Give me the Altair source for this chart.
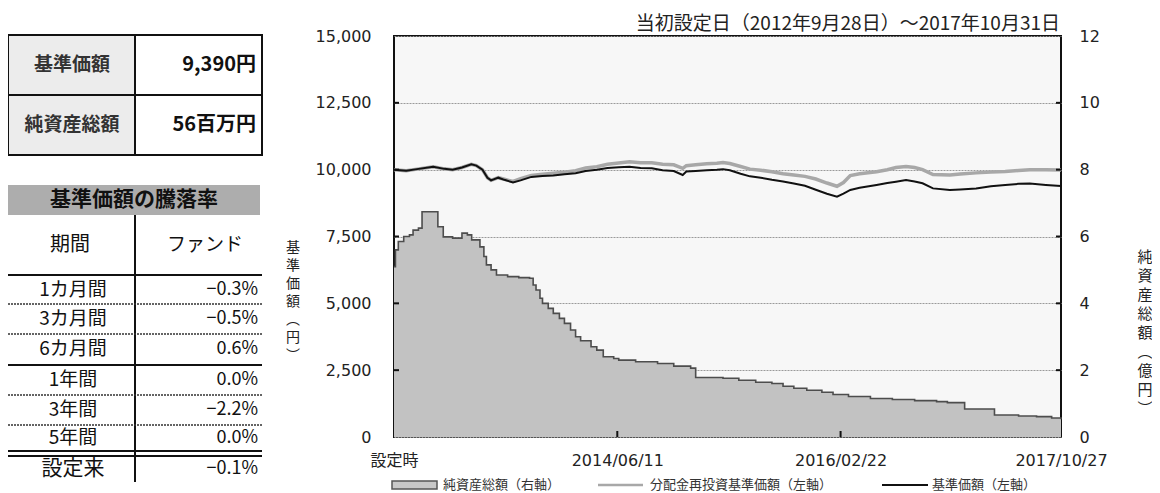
import altair as alt
import pandas as pd

# ---------------- data ----------------
nav_dates = ["2012-09-28","2012-11-01","2012-12-01","2013-01-15","2013-02-15","2013-03-10","2013-04-05",
             "2013-05-01","2013-05-15","2013-06-01","2013-06-15","2013-06-25","2013-07-15","2013-08-01",
             "2013-08-25","2013-09-15","2013-10-15","2013-11-15","2013-12-15","2014-01-15","2014-02-15",
             "2014-03-15","2014-04-15","2014-05-15","2014-06-15","2014-07-15","2014-08-15","2014-09-15",
             "2014-10-15","2014-11-15","2014-12-10","2014-12-20","2015-01-15","2015-02-15","2015-03-15",
             "2015-04-01","2015-04-20","2015-05-20","2015-06-15","2015-07-15","2015-08-15","2015-09-15",
             "2015-10-15","2015-11-15","2015-12-15","2016-01-15","2016-02-12","2016-03-01","2016-03-20",
             "2016-04-15","2016-06-01","2016-07-01","2016-07-25","2016-08-22","2016-09-15","2016-10-07",
             "2016-11-05","2016-12-22","2017-01-20","2017-03-05","2017-04-15","2017-05-25","2017-07-01",
             "2017-08-01","2017-09-15","2017-10-27"]
nav_values = [10000, 9960, 10020, 10110, 10030, 10000, 10080, 10200, 10150, 10000, 9700, 9600, 9700, 9620,
              9520, 9600, 9730, 9760, 9780, 9830, 9870, 9950, 10000, 10060, 10090, 10110, 10060, 10050,
              9980, 9950, 9800, 9930, 9950, 9980, 10000, 10020, 9980, 9850, 9750, 9700, 9620, 9560,
              9480, 9400, 9250, 9100, 8990, 9100, 9240, 9320, 9430, 9500, 9550, 9610, 9560, 9490,
              9300, 9240, 9260, 9300, 9380, 9430, 9470, 9480, 9430, 9390]
reinv_values = [10000, 9960, 10020, 10110, 10030, 10000, 10080, 10200, 10150, 10000, 9700, 9600, 9700, 9640,
                9560, 9660, 9780, 9830, 9870, 9900, 9960, 10060, 10110, 10200, 10250, 10300, 10260, 10260,
                10200, 10180, 10050, 10150, 10180, 10220, 10240, 10270, 10230, 10120, 10020, 9980, 9920, 9850,
                9800, 9750, 9650, 9500, 9380, 9520, 9780, 9850, 9920, 10000, 10080, 10120, 10080, 10000,
                9820, 9800, 9840, 9880, 9910, 9930, 9970, 10000, 10000, 9990]

asset_dates = ["2012-09-28","2012-10-02","2012-10-10","2012-10-25","2012-11-10","2012-11-20","2012-12-05",
               "2012-12-15","2013-01-28","2013-02-12","2013-03-10","2013-04-05","2013-04-20","2013-05-02",
               "2013-05-25","2013-06-05","2013-06-12","2013-06-25","2013-07-10","2013-08-10","2013-09-10",
               "2013-10-10","2013-10-20","2013-10-28","2013-11-08","2013-11-15","2013-12-01","2013-12-15",
               "2014-01-01","2014-01-15","2014-02-01","2014-02-15","2014-03-01","2014-03-30","2014-04-15",
               "2014-05-03","2014-06-01","2014-06-15","2014-08-01","2014-10-01","2014-11-15","2015-01-01",
               "2015-01-15","2015-04-01","2015-05-15","2015-07-01","2015-08-15","2015-09-15","2015-10-15",
               "2015-11-20","2016-01-01","2016-02-01","2016-03-15","2016-05-15","2016-07-15","2016-09-15",
               "2016-11-15","2016-12-15","2017-02-01","2017-04-25","2017-07-01","2017-08-20","2017-10-01",
               "2017-10-27"]
asset_values = [5.10, 5.60, 5.85, 6.00, 6.05, 6.19, 6.25, 6.74, 6.29, 5.99, 5.95, 6.10, 6.05, 5.90,
                5.69, 5.40, 5.15, 5.00, 4.85, 4.80, 4.77, 4.75, 4.55, 4.40, 4.15, 4.00, 3.85, 3.70,
                3.55, 3.40, 3.20, 3.00, 2.88, 2.70, 2.60, 2.40, 2.35, 2.30, 2.25, 2.20, 2.12, 2.06,
                1.78, 1.76, 1.70, 1.64, 1.60, 1.52, 1.46, 1.40, 1.34, 1.27, 1.21, 1.15, 1.12, 1.09,
                1.06, 1.03, 0.84, 0.66, 0.63, 0.61, 0.57, 0.53]

tick_dates = ["2012-09-28", "2014-06-11", "2016-02-22", "2017-10-27"]
left_ticks = [0, 2500, 5000, 7500, 10000, 12500, 15000]
right_ticks = [0, 2, 4, 6, 8, 10, 12]

periods = ["1カ月間", "3カ月間", "6カ月間", "1年間", "3年間", "5年間", "設定来"]
returns = [-0.3, -0.5, 0.6, 0.0, -2.2, 0.0, -0.1]
nav_latest = 9390
assets_latest_mil = 56
title_text = "当初設定日（2012年9月28日）～2017年10月31日"
legend_labels = ["純資産総額（右軸）", "分配金再投資基準価額（左軸）", "基準価額（左軸）"]

# ---------------- layout ----------------
JP = "'Noto Sans CJK JP', sans-serif"
NUM = "'DejaVu Sans', 'Noto Sans CJK JP', sans-serif"
OX, OY, W, H = 394, 36, 667, 401
row_y = [290, 319, 349, 380, 410, 438, 469]


def X(v):
    return v - OX


def Y(v):
    return v - OY


def dt(s):
    y, m, d = map(int, s.split("-"))
    return alt.DateTime(year=y, month=m, date=d, utc=True)


one = pd.DataFrame({"k": [0]})

nav_df = pd.DataFrame({"date": nav_dates, "nav": nav_values, "reinv": reinv_values})
asset_df = pd.DataFrame({"date": asset_dates, "assets": asset_values})

x_scale = alt.Scale(domain=[dt(tick_dates[0]), dt(tick_dates[-1])])
x_axis = alt.Axis(values=[dt(s) for s in tick_dates],
                  labelExpr="datum.value < utc(2013,0,1) ? '設定時' : utcFormat(datum.value, '%Y/%m/%d')",
                  title=None, ticks=False, domain=False, grid=False, labelFlush=False,
                  labelOverlap=False, labelFont=NUM, labelFontSize=16, labelColor="#222",
                  labelPadding=15)
x_enc = alt.X("date:T", scale=x_scale, axis=x_axis)

yl_scale = alt.Scale(domain=[0, 15000], nice=False)
yl_axis = alt.Axis(values=left_ticks, format=",d", title=None, ticks=False, domain=False,
                   grid=True, gridDash=[2, 1], gridColor="#9a9a9a", gridWidth=1,
                   labelFont=NUM, labelFontSize=16, labelColor="#222", labelPadding=23)
yr_scale = alt.Scale(domain=[0, 12], nice=False)
yr_axis = alt.Axis(orient="right", values=right_ticks, format="d", title=None, ticks=False,
                   domain=False, grid=False, labelFont=NUM, labelFontSize=16, labelColor="#222",
                   labelPadding=18)

area = alt.Chart(asset_df).mark_area(interpolate="step-after", color="#c2c2c2", opacity=1).encode(
    x=x_enc, y=alt.Y("assets:Q", scale=yr_scale, axis=yr_axis))
area_line = alt.Chart(asset_df).mark_line(interpolate="step-after", color="#4d4d4d", strokeWidth=1.6).encode(
    x=x_enc, y=alt.Y("assets:Q", scale=yr_scale, axis=yr_axis))

reinv_line = alt.Chart(nav_df).mark_line(color="#a8a8a8", strokeWidth=3.5).encode(
    x=x_enc, y=alt.Y("reinv:Q", scale=yl_scale, axis=yl_axis))
nav_line = alt.Chart(nav_df).mark_line(color="#111111", strokeWidth=2).encode(
    x=x_enc, y=alt.Y("nav:Q", scale=yl_scale, axis=yl_axis))

inner = pd.DataFrame({"v": left_ticks[1:-1]})
lt = alt.Chart(inner).mark_rule(color="#111", strokeWidth=2).encode(
    y=alt.Y("v:Q", scale=yl_scale, axis=yl_axis), x=alt.value(0), x2=alt.value(5))
rt = alt.Chart(inner).mark_rule(color="#111", strokeWidth=2).encode(
    y=alt.Y("v:Q", scale=yl_scale, axis=yl_axis), x=alt.value(W - 5), x2=alt.value(W))
bt = alt.Chart(pd.DataFrame({"date": tick_dates[1:3]})).mark_rule(color="#111", strokeWidth=2).encode(
    x=x_enc, y=alt.value(H), y2=alt.value(H - 6))


# ---------------- decorations ----------------
def txt(s, x, y, size, align="center", weight="normal", color="#111", font=JP, **kw):
    return alt.Chart(pd.DataFrame({"t": [s]})).mark_text(
        align=align, baseline="middle", fontSize=size, fontWeight=weight, color=color, font=font, **kw
    ).encode(x=alt.value(X(x)), y=alt.value(Y(y)), text="t:N")


def box(x1, x2, y1, y2, **style):
    return alt.Chart(one).mark_rect(**style).encode(
        x=alt.value(X(x1)), x2=alt.value(X(x2)), y=alt.value(Y(y1)), y2=alt.value(Y(y2)))


def hline(x1, x2, y, width=2, color="#111", dash=None):
    kw = dict(color=color, strokeWidth=width)
    if dash:
        kw["strokeDash"] = dash
    return alt.Chart(one).mark_rule(**kw).encode(
        x=alt.value(X(x1)), x2=alt.value(X(x2)), y=alt.value(Y(y)))


def vline(x, y1, y2, width=2, color="#111"):
    return alt.Chart(one).mark_rule(color=color, strokeWidth=width).encode(
        x=alt.value(X(x)), y=alt.value(Y(y1)), y2=alt.value(Y(y2)))


def fmt_ret(v):
    s = f"{v:.1f}%"
    return s.replace("-", "−")


decor = []
# title
decor.append(txt(title_text, 1060, 24, 19, align="right", color="#222"))
# table 1
decor.append(box(8, 135, 35, 155, color="#ececec"))
decor.append(box(8, 262, 35, 155, fill="transparent", stroke="#111", strokeWidth=2))
decor.append(hline(8, 262, 95))
decor.append(vline(135, 35, 155))
decor.append(txt("基準価額", 72, 65, 19, weight="bold", color="#333"))
decor.append(txt("純資産総額", 72, 125, 19, weight="bold", color="#333"))
decor.append(txt(f"{nav_latest:,}円", 256, 65, 20, align="right", weight="bold"))
decor.append(txt(f"{assets_latest_mil}百万円", 256, 125, 20, align="right", weight="bold"))
# table 2
decor.append(box(8, 260, 185, 215, color="#adadad"))
decor.append(txt("基準価額の騰落率", 134, 200, 21, weight="bold"))
decor.append(vline(135, 215, 482))
decor.append(txt("期間", 70, 245, 20))
decor.append(txt("ファンド", 205, 245, 19))
decor.append(hline(8, 262, 275))
for yy in [304, 334, 395, 425]:
    decor.append(hline(8, 262, yy, width=1.5, color="#333", dash=[2, 1]))
decor.append(hline(8, 262, 365))
decor.append(hline(8, 262, 451))
decor.append(hline(8, 262, 456))
for i, (p, r) in enumerate(zip(periods, returns)):
    decor.append(txt(p, 73, row_y[i], 21 if p == "設定来" else 19))
    decor.append(txt(fmt_ret(r), 258, row_y[i], 18, align="right"))
# axis titles (vertical)
decor.append(txt("\n".join("基準価額︵円︶"), 293, 248, 14, lineBreak="\n", lineHeight=18, color="#222"))
decor.append(txt("\n".join("純資産総額︵億円︶"), 1145, 257, 15, lineBreak="\n", lineHeight=19, color="#222"))
# legend
LY = 485
decor.append(box(392, 437, LY - 4, LY + 4, color="#c8c8c8", stroke="#555", strokeWidth=1.5))
decor.append(txt(legend_labels[0], 443, LY, 13, align="left", color="#333"))
decor.append(hline(598, 643, LY, width=2.5, color="#a8a8a8"))
decor.append(txt(legend_labels[1], 650, LY, 13, align="left", color="#333"))
decor.append(hline(882, 928, LY, width=2, color="#111"))
decor.append(txt(legend_labels[2], 932, LY, 13, align="left", color="#333"))

chart = alt.layer(
    alt.layer(area, area_line),
    alt.layer(reinv_line, nav_line, lt, rt, bt),
    *decor,
).resolve_scale(y="independent").properties(
    width=W, height=H,
    padding={"left": 386, "top": 28, "right": 91, "bottom": 56},
    autosize=alt.AutoSizeParams(type="none"),
).configure(background="white").configure_view(fill="#f7f7f7", stroke="#111", strokeWidth=2)

chart.save("out.html", embed_options={"renderer": "svg", "actions": False})
